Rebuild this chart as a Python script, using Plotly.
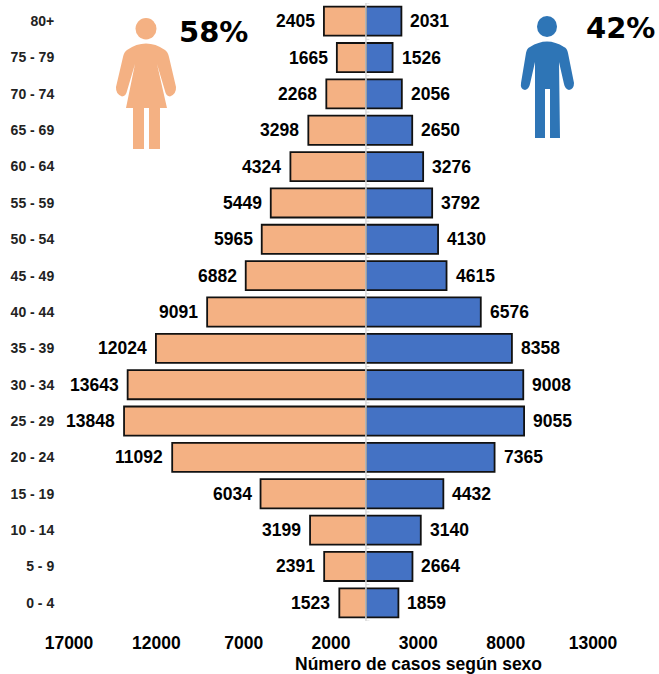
import plotly.graph_objects as go

W, H = 659, 674
categories = ["0 - 4", "5 - 9", "10 - 14", "15 - 19", "20 - 24", "25 - 29", "30 - 34", "35 - 39", "40 - 44",
              "45 - 49", "50 - 54", "55 - 59", "60 - 64", "65 - 69", "70 - 74", "75 - 79", "80+"]
mujeres = [1523, 2391, 3199, 6034, 11092, 13848, 13643, 12024, 9091, 6882, 5965, 5449, 4324, 3298, 2268, 1665, 2405]
hombres = [1859, 2664, 3140, 4432, 7365, 9055, 9008, 8358, 6576, 4615, 4130, 3792, 3276, 2650, 2056, 1526, 2031]
x_ticks = [-17000, -12000, -7000, -2000, 3000, 8000, 13000]
x_tick_labels = ["17000", "12000", "7000", "2000", "3000", "8000", "13000"]

FONT = "Liberation Sans, Arial, sans-serif"
PEACH, BLUE = "#F4B183", "#4472C4"
ICON_F, ICON_M = "#F4B183", "#2E75B6"
L, R, T, B = 69, 66, 3, 53

fig = go.Figure()
pos = list(range(len(categories)))
fig.add_trace(go.Bar(y=pos, x=[-v for v in mujeres], orientation="h", name="Mujeres", width=0.8,
                     marker=dict(color=PEACH, line=dict(color="#111111", width=1.8))))
fig.add_trace(go.Bar(y=pos, x=hombres, orientation="h", name="Hombres", width=0.8,
                     marker=dict(color=BLUE, line=dict(color="#111111", width=1.8))))

ann = []
for i, (m, h) in enumerate(zip(mujeres, hombres)):
    ann.append(dict(x=-m, y=i, xref="x", yref="y", text=f"<b>{m}</b>", showarrow=False,
                    xanchor="right", xshift=-7, font=dict(family=FONT, size=17.5, color="#000")))
    ann.append(dict(x=h, y=i, xref="x", yref="y", text=f"<b>{h}</b>", showarrow=False,
                    xanchor="left", xshift=7, font=dict(family=FONT, size=17.5, color="#000")))


def px(x):
    return (x - L) / (W - L - R)


def py(y):
    return 1 - (y - T) / (H - T - B)


ann.append(dict(x=px(418), y=py(663.5), xref="paper", yref="paper", text="<b>Número de casos según sexo</b>",
                xanchor="center", yanchor="middle", showarrow=False, font=dict(family=FONT, size=17.5, color="#000")))
ann.append(dict(x=px(213), y=py(32), xref="paper", yref="paper", text="<b>58%</b>", showarrow=False,
                xanchor="center", yanchor="middle", font=dict(family="DejaVu Sans", size=29, color="#000")))
ann.append(dict(x=px(620), y=py(28), xref="paper", yref="paper", text="<b>42%</b>", showarrow=False,
                xanchor="center", yanchor="middle", font=dict(family="DejaVu Sans", size=29, color="#000")))


def path(cmds):
    out = []
    for c in cmds:
        if c == "Z":
            out.append("Z")
        else:
            op, *pts = c
            out.append(op + " ".join(f"{px(a):.5f},{py(b):.5f}" for a, b in pts))
    return " ".join(out)


woman = [
    ("M", (127, 50)), ("Q", (146, 37), (165, 50)), ("Q", (168, 52), (169, 57)), ("L", (176, 87)),
    ("Q", (176.5, 94), (170, 96.5)), ("Q", (166, 96), (165, 91)), ("L", (157, 64)), ("L", (167, 108)),
    ("L", (160, 108)), ("L", (160, 149)), ("L", (149, 149)), ("L", (149, 108)), ("L", (144, 108)),
    ("L", (144, 149)), ("L", (133, 149)), ("L", (133, 108)), ("L", (126, 108)), ("L", (135, 64)),
    ("L", (127, 91)), ("Q", (126, 96), (122, 96.5)), ("Q", (115.5, 94), (116, 87)), ("L", (123, 57)),
    ("Q", (124, 52), (127, 50)), "Z",
]
man = [
    ("M", (530, 47)), ("Q", (547, 36), (564, 47)), ("Q", (567, 48), (568, 53)), ("L", (574, 83)),
    ("Q", (574, 89), (569, 90)), ("Q", (565, 89), (564, 84)), ("L", (559, 62)), ("L", (560, 138)),
    ("L", (550, 138)), ("L", (550, 89)), ("L", (545, 89)), ("L", (545, 138)), ("L", (535, 138)),
    ("L", (535, 62)), ("L", (530, 84)), ("Q", (529, 89), (525, 90)), ("Q", (520, 89), (521, 83)),
    ("L", (526, 53)), ("Q", (527, 48), (530, 47)), "Z",
]

shapes = [
    dict(type="path", xref="paper", yref="paper", path=path(woman), fillcolor=ICON_F, line=dict(width=0)),
    dict(type="path", xref="paper", yref="paper", path=path(man), fillcolor=ICON_M, line=dict(width=0)),
    dict(type="circle", xref="paper", yref="paper", x0=px(135.5), x1=px(156.5), y0=py(39.5), y1=py(18),
         fillcolor=ICON_F, line=dict(width=0)),
    dict(type="circle", xref="paper", yref="paper", x0=px(537), x1=px(557), y0=py(37), y1=py(16),
         fillcolor=ICON_M, line=dict(width=0)),
    dict(type="line", xref="x", yref="paper", x0=0, x1=0, y0=0, y1=1, line=dict(color="#D9D9D9", width=1.5)),
]
for i in range(len(categories) + 1):
    shapes.append(dict(type="line", xref="x", yref="y", x0=0, x1=200, y0=i - 0.5, y1=i - 0.5,
                       line=dict(color="#D9D9D9", width=1)))

fig.update_layout(
    width=W, height=H, autosize=False, barmode="overlay", showlegend=False,
    paper_bgcolor="white", plot_bgcolor="white",
    margin=dict(l=L, r=R, t=T, b=B, pad=0),
    xaxis=dict(range=[-17000, 13000], tickvals=x_ticks, ticktext=[f"<b>{t}</b>" for t in x_tick_labels],
               showgrid=False, zeroline=False, showline=False, ticks="outside", ticklen=6, tickcolor="rgba(0,0,0,0)",
               tickfont=dict(family=FONT, size=17.5, color="#000")),
    yaxis=dict(range=[-0.5, 16.5], tickvals=pos, ticktext=[f"<b>{c}</b>" for c in categories],
               showgrid=False, zeroline=False, showline=False, ticks="outside", ticklen=11, tickcolor="rgba(0,0,0,0)",
               tickfont=dict(family=FONT, size=14, color="#222")),
    annotations=ann, shapes=shapes,
)
fig.write_html("out.html", config=dict(displayModeBar=False),
               post_script="document.body.style.margin='0';document.documentElement.style.overflow='hidden';")
